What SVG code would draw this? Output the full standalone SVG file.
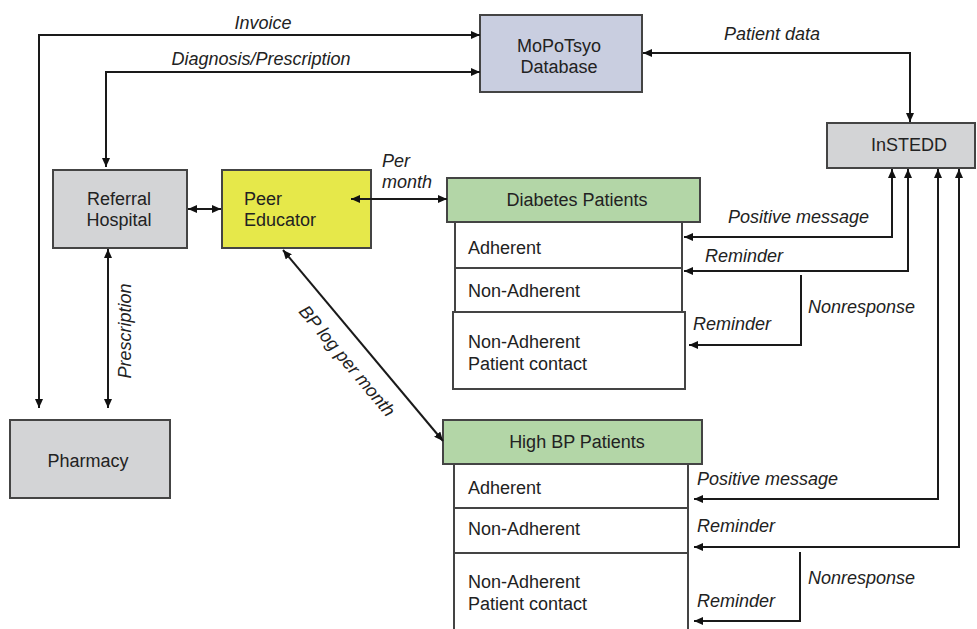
<svg xmlns="http://www.w3.org/2000/svg" width="977" height="629" viewBox="0 0 977 629">
<defs>
<marker id="ah" viewBox="0 0 9 8" refX="9" refY="4" markerWidth="9" markerHeight="8" markerUnits="userSpaceOnUse" orient="auto-start-reverse">
<path d="M0,0 L9,4 L0,8 z" fill="#111"/>
</marker>
<style>
.box{stroke:#444;stroke-width:2}
.gray{fill:#d3d4d6}
.blue{fill:#c9cee0}
.yellow{fill:#e6e84a}
.green{fill:#b3d6a7}
.white{fill:#fff}
.t{font-family:"Liberation Sans",Arial,sans-serif;font-size:18px;fill:#222}
.c{text-anchor:middle}
.i{font-style:italic}
.ln{fill:none;stroke:#1a1a1a;stroke-width:2}
.both{marker-start:url(#ah);marker-end:url(#ah)}
.end{marker-end:url(#ah)}
</style>
</defs>
<rect width="977" height="629" fill="#fff"/>

<g id="mopotsyo">
<rect class="box blue" x="480" y="15" width="162" height="77"/>
<text class="t c" x="559" y="52">MoPoTsyo</text>
<text class="t c" x="559" y="73">Database</text>
</g>

<g id="instedd">
<rect class="box gray" x="827" y="123" width="148" height="45"/>
<text class="t c" x="909" y="151">InSTEDD</text>
</g>

<g id="referral">
<rect class="box gray" x="53" y="170" width="134" height="78"/>
<text class="t c" x="119" y="205">Referral</text>
<text class="t c" x="119" y="226">Hospital</text>
</g>

<g id="peer">
<rect class="box yellow" x="222" y="170" width="149" height="78"/>
<text class="t" x="244" y="205">Peer</text>
<text class="t" x="244" y="226">Educator</text>
</g>

<g id="pharmacy">
<rect class="box gray" x="10" y="420" width="160" height="78"/>
<text class="t c" x="88" y="467">Pharmacy</text>
</g>

<g id="diabetes">
<rect class="box green" x="447" y="178" width="253" height="44"/>
<text class="t c" x="577" y="206">Diabetes Patients</text>
</g>
<g id="diabetes-adherent">
<rect class="box white" x="455" y="222" width="227" height="46"/>
<text class="t" x="468" y="254">Adherent</text>
</g>
<g id="diabetes-nonadherent">
<rect class="box white" x="455" y="268" width="227" height="44"/>
<text class="t" x="468" y="297">Non-Adherent</text>
</g>
<g id="diabetes-contact">
<rect class="box white" x="453" y="312" width="232" height="77"/>
<text class="t" x="468" y="348">Non-Adherent</text>
<text class="t" x="468" y="370">Patient contact</text>
</g>

<g id="highbp">
<rect class="box green" x="443" y="420" width="259" height="44"/>
<text class="t c" x="577" y="448">High BP Patients</text>
</g>
<g id="highbp-adherent">
<rect class="box white" x="454" y="464" width="234" height="44"/>
<text class="t" x="468" y="494">Adherent</text>
</g>
<g id="highbp-nonadherent">
<rect class="box white" x="454" y="508" width="234" height="45"/>
<text class="t" x="468" y="535">Non-Adherent</text>
</g>
<g id="highbp-contact">
<path class="box white" d="M454,632 V553 H688 V632"/>
<text class="t" x="468" y="588">Non-Adherent</text>
<text class="t" x="468" y="610">Patient contact</text>
</g>

<g id="connectors">
<path class="ln both" d="M39,408 V35 H480"/>
<path class="ln both" d="M106,167 V72 H480"/>
<path class="ln both" d="M643,53 H910 V122"/>
<path class="ln both" d="M188,209 H221"/>
<path class="ln both" d="M108,249 V408"/>
<path class="ln both" d="M351,199 H447"/>
<path class="ln both" d="M283,250 L443,441"/>
<path class="ln both" d="M684,237 H892 V169"/>
<path class="ln both" d="M684,271 H908 V169"/>
<path class="ln end" d="M801,275 V345 H689"/>
<path class="ln both" d="M694,499 H938 V169"/>
<path class="ln both" d="M694,547 H959 V169"/>
<path class="ln end" d="M800,552 V621 H694"/>
<text class="t i c" x="263" y="29">Invoice</text>
<text class="t i c" x="261" y="65">Diagnosis/Prescription</text>
<text class="t i c" x="772" y="40">Patient data</text>
<text class="t i" x="382" y="167">Per</text>
<text class="t i" x="382" y="188">month</text>
<text class="t i c" transform="translate(131,331) rotate(-90)">Prescription</text>
<text class="t i c" dominant-baseline="central" transform="translate(347,361) rotate(50)">BP log per month</text>
<text class="t i" x="728" y="223">Positive message</text>
<text class="t i" x="705" y="262">Reminder</text>
<text class="t i" x="808" y="313">Nonresponse</text>
<text class="t i" x="693" y="330">Reminder</text>
<text class="t i" x="697" y="485">Positive message</text>
<text class="t i" x="697" y="532">Reminder</text>
<text class="t i" x="808" y="584">Nonresponse</text>
<text class="t i" x="697" y="607">Reminder</text>
</g>
</svg>
